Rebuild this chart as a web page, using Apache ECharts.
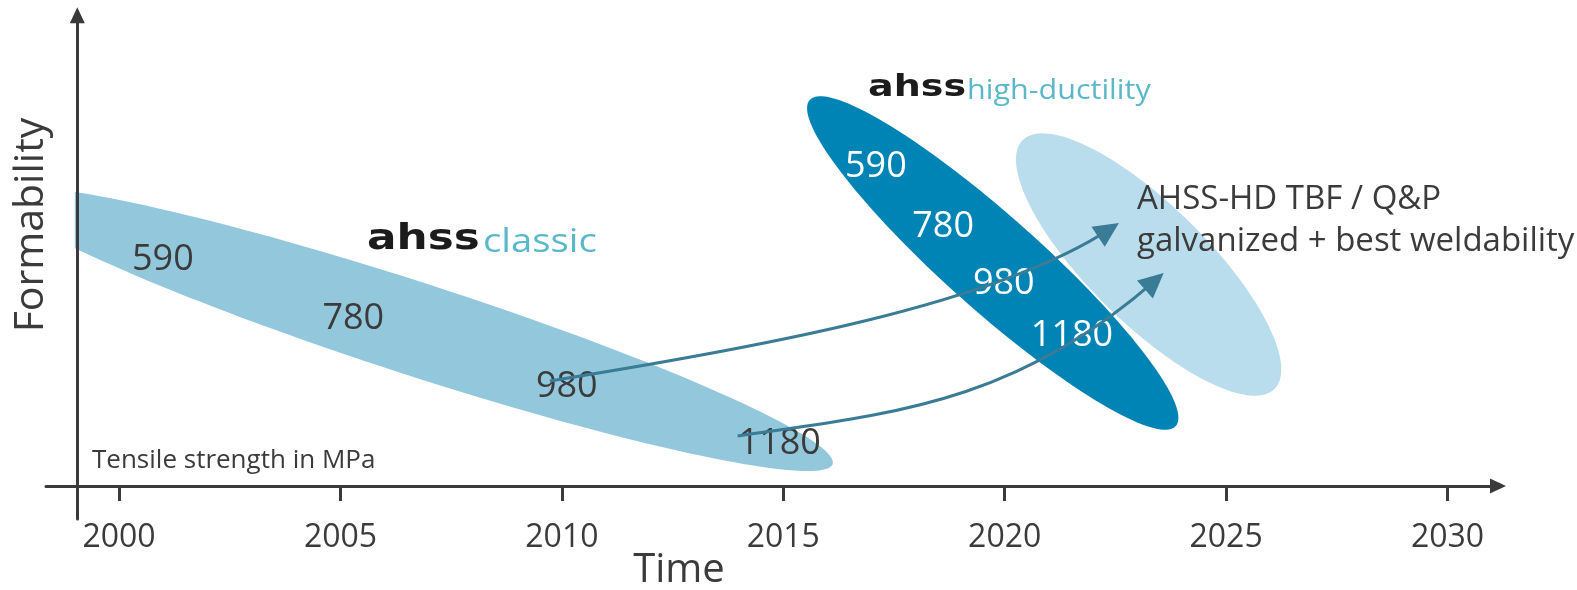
<!DOCTYPE html>
<html><head><meta charset="utf-8">
<script src="https://cdn.jsdelivr.net/npm/echarts@6/dist/echarts.min.js"></script>
<style>html,body{margin:0;padding:0;background:#fff}#c{width:1577px;height:590px}</style>
</head><body><div id="c"></div>
<script>
// ---------- data ----------
const tickYears = [2000, 2005, 2010, 2015, 2020, 2025, 2030];
const tickLabels = ['2000', '2005', '2010', '2015', '2020', '2025', '2030'];

// steel families drawn as ellipses: centre [year, formability] and two conjugate half-axes
const familyNames = ['ahss classic', 'ahss high-ductility', 'AHSS-HD TBF / Q&P galvanized'];
const familyCenters = [[2006.70, 33.36], [2019.73, 47.38], [2023.25, 47.06]];
const familyAxisU = [[9.42, -28.34], [4.133, -34.63], [2.846, -26.40]];
const familyAxisV = [[0, 10.35], [-0.707, -7.456], [-0.935, -8.92]];

// tensile strength grades (MPa) and where they sit
const classicGrades = ['590', '780', '980', '1180'];
const classicGradeAt = [[2000.99, 48.66], [2005.29, 36.12], [2010.11, 21.83], [2014.92, 9.57]];
const hdGrades = ['590', '780', '980', '1180'];
const hdGradeAt = [[2017.09, 68.41], [2018.61, 55.67], [2019.98, 43.66], [2021.52, 32.62]];

// evolution arrows (cubic curves): start, two control points, tip
const arrowFrom = [[2009.73, 22.32], [2013.97, 10.63]];
const arrowCtrlA = [[2014.24, 29.11], [2017.36, 15.31]];
const arrowCtrlB = [[2019.75, 38.25], [2020.21, 17.22]];
const arrowTo = [[2022.58, 55.88], [2023.59, 45.26]];

// ---------- layout / style ----------
const GRID_LEFT = 46, AXIS_X = 77.3;
const TEXT = '#3b3b3b';
const FONT = '"Open Sans", "Noto Sans", sans-serif';
const familyColors = ['#93c8dc', '#0083b5', '#b9ddec'];
const ARROW_COLOR = '#3a7b95';

const chart = echarts.init(document.getElementById('c'), null, {renderer: 'canvas'});

function renderFamily(params, api) {
  const i = params.dataIndex;
  const c = familyCenters[i], u = familyAxisU[i], v = familyAxisV[i];
  const pts = [];
  const N = 160;
  for (let k = 0; k < N; k++) {
    const t = k / N * Math.PI * 2;
    pts.push(api.coord([c[0] + u[0] * Math.cos(t) + v[0] * Math.sin(t),
                        c[1] + u[1] * Math.cos(t) + v[1] * Math.sin(t)]));
  }
  const el = {type: 'polygon', shape: {points: pts}, style: {fill: familyColors[i]}};
  if (i === 0) {
    el.clipPath = {type: 'rect', shape: {x: AXIS_X - 2.5, y: 0, width: 2000, height: 600}};
  }
  return el;
}

function renderGrade(labels, color) {
  return function (params, api) {
    const p = api.coord([api.value(0), api.value(1)]);
    return {type: 'text', x: p[0], y: p[1] + 3,
      style: {text: labels[params.dataIndex], fill: color, font: '36px ' + FONT,
              align: 'center', verticalAlign: 'middle'}};
  };
}

function renderArrow(params, api) {
  const i = params.dataIndex;
  const p0 = api.coord(arrowFrom[i]), p1 = api.coord(arrowCtrlA[i]),
        p2 = api.coord(arrowCtrlB[i]), p3 = api.coord(arrowTo[i]);
  const dx = p3[0] - p2[0], dy = p3[1] - p2[1], L = Math.hypot(dx, dy);
  const ux = dx / L, uy = dy / L;
  const HL = 25, HW = 12;
  const bx = p3[0] - ux * HL, by = p3[1] - uy * HL;
  return {type: 'group', children: [
    {type: 'bezierCurve',
     shape: {x1: p0[0], y1: p0[1], cpx1: p1[0], cpy1: p1[1], cpx2: p2[0], cpy2: p2[1],
             x2: p3[0] - ux * 10, y2: p3[1] - uy * 10},
     style: {stroke: ARROW_COLOR, lineWidth: 3, fill: null}},
    {type: 'polygon',
     shape: {points: [[p3[0], p3[1]], [bx - uy * HW, by + ux * HW], [bx + uy * HW, by - ux * HW]]},
     style: {fill: ARROW_COLOR}}
  ]};
}

const axisLineStyle = {color: '#3a3a3a', width: 3};

chart.setOption({
  animation: false,
  backgroundColor: '#ffffff',
  grid: {left: GRID_LEFT, right: 79, top: 15.3, bottom: 71},
  xAxis: {
    type: 'value', min: 1998.35, max: 2031.14, z: 5,
    splitLine: {show: false},
    axisLine: {onZero: true, lineStyle: axisLineStyle, symbol: ['none', 'triangle'], symbolSize: [15, 16]},
    axisTick: {show: true, length: 15, lineStyle: {color: '#3a3a3a', width: 3}, customValues: tickYears},
    axisLabel: {customValues: tickYears, margin: 3, color: TEXT, fontSize: 32, fontFamily: FONT,
      formatter: function (v) { const k = tickYears.indexOf(Math.round(v)); return k >= 0 ? tickLabels[k] : ''; }}
  },
  yAxis: {
    type: 'value', min: -7, max: 100, z: 5, offset: GRID_LEFT - AXIS_X,
    splitLine: {show: false}, axisTick: {show: false}, axisLabel: {show: false},
    axisLine: {show: true, onZero: false, lineStyle: axisLineStyle, symbol: ['none', 'triangle'], symbolSize: [15, 16]}
  },
  series: [
    {type: 'custom', name: 'families', z: 1, renderItem: renderFamily,
     data: familyCenters.map((c, i) => ({name: familyNames[i], value: c}))},
    {type: 'custom', name: 'classic grades', z: 6, renderItem: renderGrade(classicGrades, TEXT),
     data: classicGradeAt},
    {type: 'custom', name: 'hd grades', z: 6, renderItem: renderGrade(hdGrades, '#ffffff'),
     data: hdGradeAt},
    {type: 'custom', name: 'arrows', z: 7, renderItem: renderArrow,
     data: arrowFrom.map((p, i) => arrowTo[i])}
  ],
  graphic: {elements: [
    {type: 'text', z: 100, x: 31, y: 225, rotation: Math.PI / 2,
     style: {text: 'Formability', fill: TEXT, font: '41px ' + FONT, align: 'center', verticalAlign: 'middle'}},
    {type: 'text', z: 100, x: 679, y: 571,
     style: {text: 'Time', fill: TEXT, font: '40px ' + FONT, align: 'center', verticalAlign: 'middle'}},
    {type: 'text', z: 100, x: 92, y: 461,
     style: {text: 'Tensile strength in MPa', fill: TEXT, font: '26px ' + FONT, align: 'left', verticalAlign: 'middle'}},
    {type: 'text', z: 100, x: 1137, y: 200,
     style: {text: 'AHSS-HD TBF / Q&P', fill: TEXT, font: '33px ' + FONT, align: 'left', verticalAlign: 'middle'}},
    {type: 'text', z: 100, x: 1137, y: 242,
     style: {text: 'galvanized + best weldability', fill: TEXT, font: '33px ' + FONT, align: 'left', verticalAlign: 'middle'}},
    // logos
    {type: 'text', z: 100, x: 367, y: 240, scaleX: 1.25,
     style: {text: 'ahss', fill: '#1c1c1c', font: 'bold 35px "DejaVu Sans", sans-serif', align: 'left', verticalAlign: 'middle'}},
    {type: 'text', z: 100, x: 483, y: 243, scaleX: 1.16,
     style: {text: 'classic', fill: '#5bb8c9', font: '33px ' + FONT, align: 'left', verticalAlign: 'middle'}},
    {type: 'text', z: 100, x: 868, y: 88, scaleX: 1.27,
     style: {text: 'ahss', fill: '#1c1c1c', font: 'bold 30px "DejaVu Sans", sans-serif', align: 'left', verticalAlign: 'middle'}},
    {type: 'text', z: 100, x: 967, y: 91, scaleX: 1.09,
     style: {text: 'high-ductility', fill: '#5bb8c9', font: '28px ' + FONT, align: 'left', verticalAlign: 'middle'}}
  ]}
});
</script>
</body></html>
